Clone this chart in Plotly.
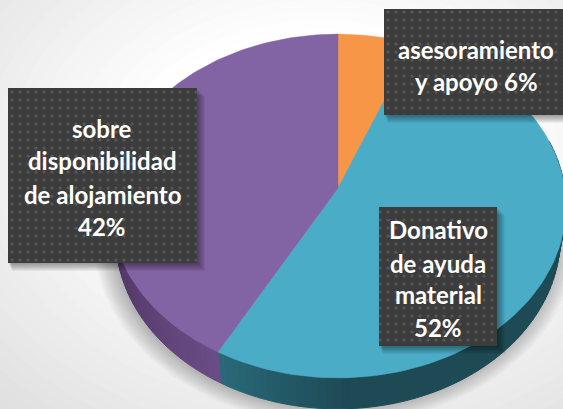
import numpy as np
import plotly.graph_objects as go

# --- data ---
categories = ["asesoramiento y apoyo", "Donativo de ayuda material", "sobre disponibilidad de alojamiento"]
shares = [6, 52, 42]
label_lines = [
    ["asesoramiento", "y apoyo 6%"],
    ["Donativo", "de ayuda", "material", "52%"],
    ["sobre", "disponibilidad", "de alojamiento", "42%"],
]
top_colors = ["#F79646", "#4BACC8", "#8263A3"]
rim_near = ["#A8652C", "#2A6B7A", "#6A4C86"]
rim_far = ["#A8652C", "#1E4A55", "#563A6C"]
# label boxes: x0, x1, y0, y1
boxes = [(384, 563, 9, 115), (379, 497, 207, 346), (8, 197, 88, 263)]
line_ys = [[49, 81], [229, 263, 294, 327], [128, 160, 194, 226]]
box_cx = [476, 438, 102]

# --- pie geometry (perspective-tilted disc) ---
CX, CY, A, H, K, DEPTH, BASE_SCALE = 338, 188, 226.7, 170, 0.1047, 31, 0.975


def project(theta, dy=0.0, sx=1.0):
    """theta: radians clockwise from the top of the disc; r=1."""
    u, v = np.sin(theta), np.cos(theta)
    w = 1 + K * v
    return CX + sx * A * u / w, CY - H * v / w + dy


def disc(dx=0, dy=0, grow=0, sx=1.0):
    t = np.linspace(0, 2 * np.pi, 240)
    x, y = project(t, 0, sx)
    return (x - CX) * (1 + grow) + CX + dx, (y - CY) * (1 + grow) + CY + dy


def mix(c1, c2, f):
    a = [int(c1[i:i + 2], 16) for i in (1, 3, 5)]
    b = [int(c2[i:i + 2], 16) for i in (1, 3, 5)]
    return "rgb(" + ",".join(str(round(p + (q - p) * f)) for p, q in zip(a, b)) + ")"


fig = go.Figure()

# soft shadow below the pie
for i in range(12):
    sx_, sy_ = disc(dx=-3, dy=DEPTH - 1, grow=0.008 * i, sx=BASE_SCALE)
    fig.add_trace(go.Scatter(x=sx_, y=sy_, mode="lines", fill="toself", line=dict(width=0),
                             fillcolor="rgba(0,0,0,0.022)", hoverinfo="skip"))

# slice angles from the data
edges = np.cumsum([0] + shares) / sum(shares) * 2 * np.pi

# side wall
for i in range(len(shares)):
    n = max(2, int((edges[i + 1] - edges[i]) / 0.03))
    ts = np.linspace(edges[i], edges[i + 1], n + 1)
    for j in range(n):
        if np.cos(ts[j]) > 0.3:
            continue
        a, b = ts[j], ts[j + 1]
        xa, ya = project(np.array([a, b]))
        xb, yb = project(np.array([b, a]), DEPTH, BASE_SCALE)
        if i == 1:
            f = min(1, (edges[2] - ts[j]) / 0.55)
        else:
            f = min(1, (ts[j] - edges[2]) / 0.6)
        col = mix(rim_near[i], rim_far[i], f)
        fig.add_trace(go.Scatter(x=np.r_[xa, xb, xa[0]], y=np.r_[ya, yb, ya[0]], mode="lines", fill="toself",
                                 line=dict(width=1, color=col), fillcolor=col, hoverinfo="skip"))

# top face
for i, c in enumerate(top_colors):
    t = np.linspace(edges[i], edges[i + 1], 120)
    x, y = project(t)
    fig.add_trace(go.Scatter(x=np.r_[CX, x, CX], y=np.r_[CY, y, CY], mode="lines", fill="toself",
                             line=dict(width=0.5, color=c), fillcolor=c, name=categories[i], hoverinfo="skip"))

# label boxes with shadow and dot pattern
for (x0, x1, y0, y1) in boxes:
    for s in range(1, 9):
        fig.add_trace(go.Scatter(x=[x0 + s / 2, x1 + s, x1 + s, x0 + s / 2, x0 + s / 2],
                                 y=[y0 + s, y0 + s, y1 + s, y1 + s, y0 + s],
                                 mode="lines", fill="toself", line=dict(width=0),
                                 fillcolor="rgba(0,0,0,0.05)", hoverinfo="skip"))
    fig.add_trace(go.Scatter(x=[x0, x1, x1, x0, x0], y=[y0, y0, y1, y1, y0],
                             mode="lines", fill="toself", line=dict(width=0),
                             fillpattern=dict(shape=".", bgcolor="#3C3C3C", fgcolor="#585858",
                                              size=8, solidity=0.12, fillmode="replace"),
                             hoverinfo="skip"))

# backdrop: radial grey to white
shapes = []
steps = 36
for k in range(steps):
    f = k / (steps - 1)
    rx, ry = 620 * (1 - f) + 190 * f, 480 * (1 - f) + 130 * f
    g = round(205 + (255 - 205) * f)
    shapes.append(dict(type="circle", layer="below", x0=320 - rx, x1=320 + rx, y0=160 - ry, y1=160 + ry,
                       fillcolor=f"rgb({g},{g},{g})", line=dict(width=0)))

annotations = []
for lines, ys, cx in zip(label_lines, line_ys, box_cx):
    for line, y in zip(lines, ys):
        annotations.append(dict(x=cx, y=y, text=f"<b>{line}</b>", showarrow=False, xanchor="center",
                                yanchor="middle", font=dict(family="Lato", size=24, color="#FFFFFF")))

fig.update_layout(
    width=563, height=409, margin=dict(l=0, r=0, t=0, b=0), showlegend=False,
    paper_bgcolor="#D2D2D2", plot_bgcolor="rgba(0,0,0,0)",
    xaxis=dict(range=[0, 563], visible=False, fixedrange=True),
    yaxis=dict(range=[409, 0], visible=False, fixedrange=True),
    shapes=shapes, annotations=annotations,
)
fig.write_html("out.html", config=dict(displayModeBar=False),
               post_script="document.body.style.margin='0';")
